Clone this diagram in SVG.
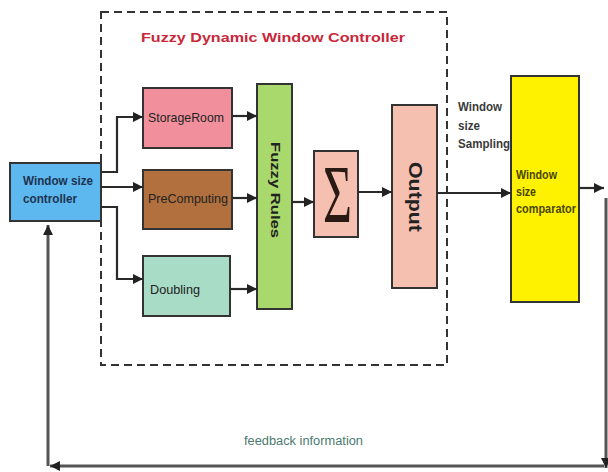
<svg xmlns="http://www.w3.org/2000/svg" width="608" height="472" viewBox="0 0 608 472">
<defs>
<marker id="ah" viewBox="0 0 10 10" refX="10" refY="5" markerWidth="10" markerHeight="10" markerUnits="userSpaceOnUse" orient="auto">
<path d="M0,0 L10,5 L0,10 Z" fill="#222"/>
</marker>
</defs>
<style>
.box{stroke:#333;stroke-width:2}
.lbl{font-family:"Liberation Sans",Arial,sans-serif;font-weight:bold;fill:#222}
.con{fill:none;stroke:#2a2a2a;stroke-width:2.2}
.fb{fill:none;stroke:#555;stroke-width:3}
</style>
<rect width="608" height="472" fill="#fff"/>
<g id="container">
<rect x="101" y="12" width="346" height="353" fill="none" stroke="#333" stroke-width="2" stroke-dasharray="8,5"/>
<text x="141" y="42" class="lbl" style="fill:#c8283a;font-size:13px" textLength="264" lengthAdjust="spacingAndGlyphs">Fuzzy Dynamic Window Controller</text>
</g>
<g id="controller">
<rect x="10" y="163" width="91" height="58" class="box" fill="#5cb8ee"/>
<text x="23" y="185" class="lbl" style="fill:#1e3250;font-size:13px" textLength="70" lengthAdjust="spacingAndGlyphs">Window size</text>
<text x="23" y="203" class="lbl" style="fill:#1e3250;font-size:13px" textLength="54" lengthAdjust="spacingAndGlyphs">controller</text>
</g>
<g id="storageroom">
<rect x="143" y="88" width="89" height="60" class="box" fill="#f1909c"/>
<text x="148" y="122" class="lbl" style="font-size:13px;font-weight:normal" textLength="76" lengthAdjust="spacingAndGlyphs">StorageRoom</text>
</g>
<g id="precomputing">
<rect x="143" y="170" width="89" height="59" class="box" fill="#b2703f"/>
<text x="148" y="203" class="lbl" style="font-size:13px;font-weight:normal" textLength="80" lengthAdjust="spacingAndGlyphs">PreComputing</text>
</g>
<g id="doubling">
<rect x="143" y="256" width="87" height="60" class="box" fill="#a9dcc6"/>
<text x="150" y="294" class="lbl" style="font-size:13px;font-weight:normal" textLength="50" lengthAdjust="spacingAndGlyphs">Doubling</text>
</g>
<g id="fuzzyrules">
<rect x="257" y="84" width="35" height="225" class="box" fill="#a9d86c"/>
<text x="275" y="190" class="lbl" transform="rotate(90 275 190)" text-anchor="middle" dominant-baseline="central" style="font-size:12px" textLength="96" lengthAdjust="spacingAndGlyphs">Fuzzy Rules</text>
</g>
<g id="sigma">
<rect x="314" y="151" width="44" height="86" class="box" fill="#f6c0b0"/>
<text x="323" y="222" style="font-family:'Liberation Serif',serif;font-size:82px;fill:#2a1a14" textLength="29" lengthAdjust="spacingAndGlyphs">Σ</text>
</g>
<g id="output">
<rect x="392" y="105" width="45" height="183" class="box" fill="#f6c0b0"/>
<text x="415" y="197" class="lbl" transform="rotate(90 415 197)" text-anchor="middle" dominant-baseline="central" style="font-size:18px" textLength="70" lengthAdjust="spacingAndGlyphs">Output</text>
</g>
<g id="sampling">
<text class="lbl" style="fill:#3a3a3a;font-size:13px"><tspan x="458" y="111" textLength="44" lengthAdjust="spacingAndGlyphs">Window</tspan><tspan x="458" y="130" textLength="22" lengthAdjust="spacingAndGlyphs">size</tspan><tspan x="458" y="148" textLength="52" lengthAdjust="spacingAndGlyphs">Sampling</tspan></text>
</g>
<g id="comparator">
<rect x="511" y="76" width="68" height="226" class="box" fill="#fff200"/>
<text class="lbl" style="fill:#4a4600;font-size:12px"><tspan x="516" y="179" textLength="41" lengthAdjust="spacingAndGlyphs">Window</tspan><tspan x="516" y="196" textLength="20" lengthAdjust="spacingAndGlyphs">size</tspan><tspan x="516" y="213" textLength="60" lengthAdjust="spacingAndGlyphs">comparator</tspan></text>
</g>
<g id="feedback">
<text x="244" y="445" class="lbl" style="fill:#4a7a70;font-size:12px;font-weight:normal" textLength="119" lengthAdjust="spacingAndGlyphs">feedback information</text>
</g>
<g id="connectors">
<path class="con" d="M101,172 H117 V117 H143" marker-end="url(#ah)"/>
<path class="con" d="M101,187 H143" marker-end="url(#ah)"/>
<path class="con" d="M101,207 H117 V279 H143" marker-end="url(#ah)"/>
<path class="con" d="M232,116 H257" marker-end="url(#ah)"/>
<path class="con" d="M232,198 H257" marker-end="url(#ah)"/>
<path class="con" d="M230,289 H257" marker-end="url(#ah)"/>
<path class="con" d="M292,202 H314" marker-end="url(#ah)"/>
<path class="con" d="M358,192 H392" marker-end="url(#ah)"/>
<path class="con" d="M437,193 H511" marker-end="url(#ah)"/>
<path class="con" d="M579,188 H604" marker-end="url(#ah)"/>
<path class="fb" d="M606,198 V468" marker-end="url(#ah)"/>
<path class="fb" d="M604,466 H50" marker-end="url(#ah)"/>
<path class="fb" d="M48,466 V225" marker-end="url(#ah)"/>
</g>
</svg>
